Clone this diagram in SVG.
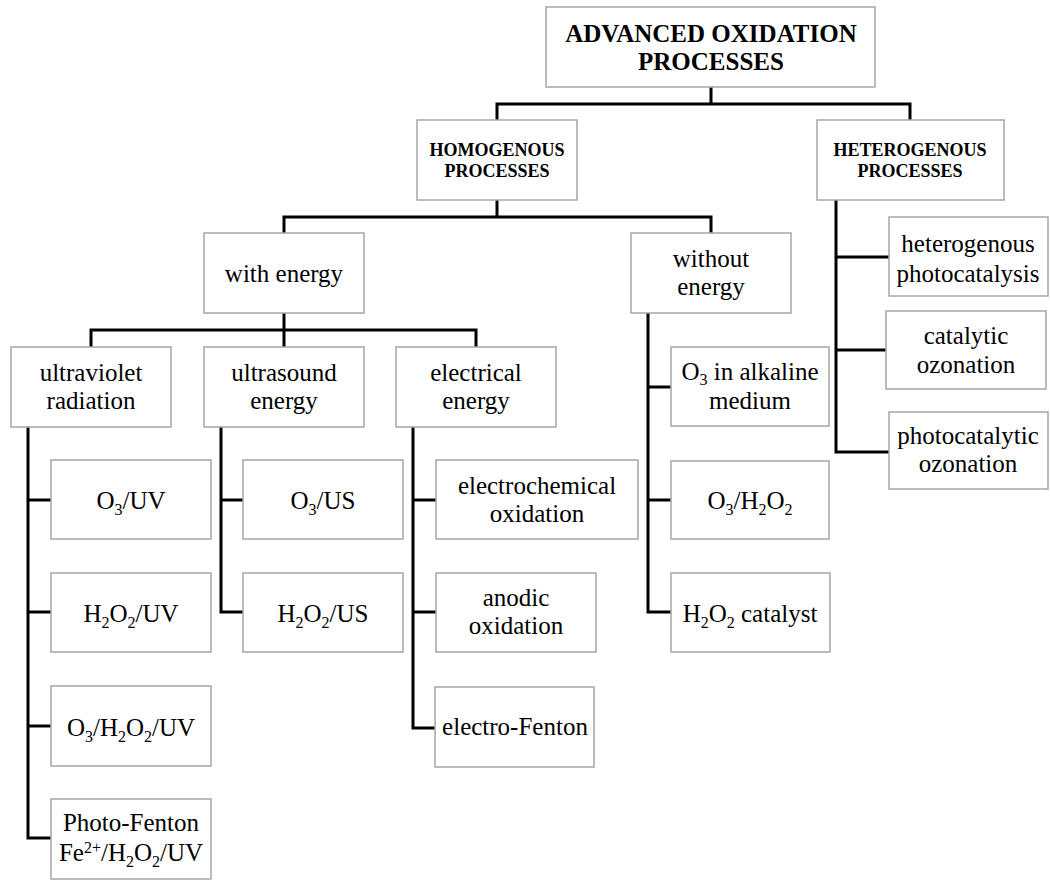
<svg xmlns="http://www.w3.org/2000/svg" width="1050" height="880" viewBox="0 0 1050 880">
<style>
.box{fill:#fff;stroke:#a6a6a6;stroke-width:1.5}
.t{font-family:"Liberation Serif","Times New Roman",serif;font-size:25px;fill:#000;text-anchor:middle}
.b{font-family:"Liberation Serif","Times New Roman",serif;font-weight:bold;fill:#000;text-anchor:middle}
.c{fill:none;stroke:#000;stroke-width:3}
.s{font-size:16px}
</style>
<rect width="1050" height="880" fill="#fff"/>
<g id="connectors">
<path class="c" d="M711,87 V104"/>
<path class="c" d="M497,120 V104 H910 V120"/>
<path class="c" d="M497,200 V217"/>
<path class="c" d="M284,233 V217 H711 V233"/>
<path class="c" d="M284,313 V347"/>
<path class="c" d="M91,347 V330 H476 V347"/>
<path class="c" d="M28,427 V838 H51 M28,500 H51 M28,612 H51 M28,726 H51"/>
<path class="c" d="M221,427 V612 H243 M221,500 H243"/>
<path class="c" d="M413,427 V728 H435 M413,500 H436 M413,612 H436"/>
<path class="c" d="M648,313 V612 H671 M648,387 H671 M648,500 H671"/>
<path class="c" d="M836,200 V452 H889 M836,257 H889 M836,350 H886"/>
</g>
<g id="aop"><rect class="box" x="546" y="7" width="329" height="80"/>
<text class="b" font-size="25" x="711" y="42">ADVANCED OXIDATION</text>
<text class="b" font-size="25" x="711" y="70">PROCESSES</text></g>
<g id="homogenous"><rect class="box" x="417" y="120" width="160" height="80"/>
<text class="b" font-size="18" x="497" y="156">HOMOGENOUS</text>
<text class="b" font-size="18" x="497" y="177">PROCESSES</text></g>
<g id="heterogenous"><rect class="box" x="817" y="120" width="187" height="80"/>
<text class="b" font-size="18" x="910" y="156">HETEROGENOUS</text>
<text class="b" font-size="18" x="910" y="177">PROCESSES</text></g>
<g id="with-energy"><rect class="box" x="204" y="233" width="160" height="80"/>
<text class="t" x="284" y="282">with energy</text></g>
<g id="without-energy"><rect class="box" x="631" y="233" width="160" height="80"/>
<text class="t" x="711" y="267">without</text>
<text class="t" x="711" y="295">energy</text></g>
<g id="uv"><rect class="box" x="11" y="347" width="160" height="80"/>
<text class="t" x="91" y="381">ultraviolet</text>
<text class="t" x="91" y="409">radiation</text></g>
<g id="us"><rect class="box" x="204" y="347" width="160" height="80"/>
<text class="t" x="284" y="381">ultrasound</text>
<text class="t" x="284" y="409">energy</text></g>
<g id="el"><rect class="box" x="396" y="347" width="160" height="80"/>
<text class="t" x="476" y="381">electrical</text>
<text class="t" x="476" y="409">energy</text></g>
<g id="o3uv"><rect class="box" x="51" y="460" width="160" height="79"/>
<text class="t" x="131" y="509">O<tspan class="s" dy="6">3</tspan><tspan dy="-6">/UV</tspan></text></g>
<g id="h2o2uv"><rect class="box" x="51" y="573" width="160" height="79"/>
<text class="t" x="131" y="622">H<tspan class="s" dy="6">2</tspan><tspan dy="-6">O</tspan><tspan class="s" dy="6">2</tspan><tspan dy="-6">/UV</tspan></text></g>
<g id="o3h2o2uv"><rect class="box" x="51" y="686" width="160" height="80"/>
<text class="t" x="131" y="736">O<tspan class="s" dy="6">3</tspan><tspan dy="-6">/H</tspan><tspan class="s" dy="6">2</tspan><tspan dy="-6">O</tspan><tspan class="s" dy="6">2</tspan><tspan dy="-6">/UV</tspan></text></g>
<g id="photofenton"><rect class="box" x="51" y="799" width="160" height="80"/>
<text class="t" x="131" y="831">Photo-Fenton</text>
<text class="t" x="131" y="861">Fe<tspan class="s" dy="-8">2+</tspan><tspan dy="8">/H</tspan><tspan class="s" dy="6">2</tspan><tspan dy="-6">O</tspan><tspan class="s" dy="6">2</tspan><tspan dy="-6">/UV</tspan></text></g>
<g id="o3us"><rect class="box" x="243" y="460" width="160" height="79"/>
<text class="t" x="323" y="509">O<tspan class="s" dy="6">3</tspan><tspan dy="-6">/US</tspan></text></g>
<g id="h2o2us"><rect class="box" x="243" y="573" width="160" height="79"/>
<text class="t" x="323" y="622">H<tspan class="s" dy="6">2</tspan><tspan dy="-6">O</tspan><tspan class="s" dy="6">2</tspan><tspan dy="-6">/US</tspan></text></g>
<g id="electrochemical"><rect class="box" x="436" y="460" width="202" height="79"/>
<text class="t" x="537" y="494">electrochemical</text>
<text class="t" x="537" y="522">oxidation</text></g>
<g id="anodic"><rect class="box" x="436" y="573" width="160" height="79"/>
<text class="t" x="516" y="606">anodic</text>
<text class="t" x="516" y="634">oxidation</text></g>
<g id="electrofenton"><rect class="box" x="435" y="687" width="159" height="80"/>
<text class="t" x="515" y="735">electro-Fenton</text></g>
<g id="o3alk"><rect class="box" x="671" y="347" width="158" height="79"/>
<text class="t" x="750" y="380">O<tspan class="s" dy="5">3</tspan><tspan dy="-5"> in alkaline</tspan></text>
<text class="t" x="750" y="409">medium</text></g>
<g id="o3h2o2"><rect class="box" x="671" y="461" width="158" height="78"/>
<text class="t" x="750" y="509">O<tspan class="s" dy="6">3</tspan><tspan dy="-6">/H</tspan><tspan class="s" dy="6">2</tspan><tspan dy="-6">O</tspan><tspan class="s" dy="6">2</tspan></text></g>
<g id="h2o2cat"><rect class="box" x="671" y="573" width="159" height="79"/>
<text class="t" x="750" y="622">H<tspan class="s" dy="6">2</tspan><tspan dy="-6">O</tspan><tspan class="s" dy="6">2</tspan><tspan dy="-6"> catalyst</tspan></text></g>
<g id="hetphoto"><rect class="box" x="889" y="217" width="159" height="79"/>
<text class="t" x="968" y="252">heterogenous</text>
<text class="t" x="968" y="282">photocatalysis</text></g>
<g id="catoz"><rect class="box" x="886" y="311" width="160" height="78"/>
<text class="t" x="966" y="344">catalytic</text>
<text class="t" x="966" y="373">ozonation</text></g>
<g id="photocatoz"><rect class="box" x="889" y="412" width="159" height="77"/>
<text class="t" x="968" y="444">photocatalytic</text>
<text class="t" x="968" y="472">ozonation</text></g>
</svg>
